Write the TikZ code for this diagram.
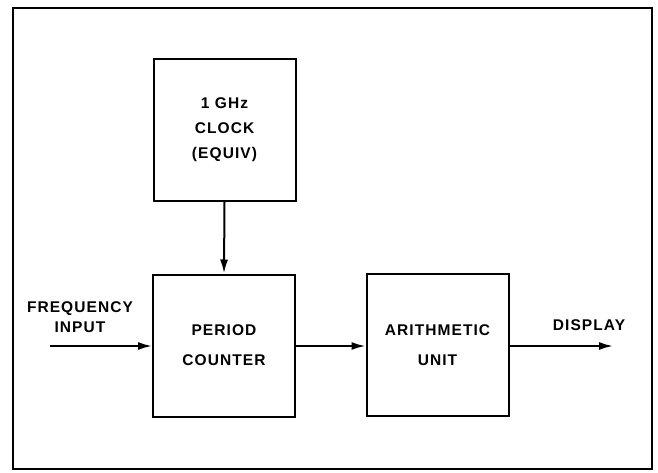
\documentclass[tikz,border=0pt]{standalone}
\usepackage{fontspec}
\setmainfont{Liberation Sans}[LetterSpace=7]
\usetikzlibrary{arrows.meta}
\begin{document}
\begin{tikzpicture}[x=1pt,y=1pt,
  blk/.style={draw,line width=2pt,minimum width=142pt,minimum height=142pt,inner sep=0pt,align=center,
    font=\fontsize{15.5}{30}\selectfont\bfseries},
  lbl/.style={inner sep=0pt,align=center,font=\fontsize{15.5}{19.5}\selectfont\bfseries},
  conn/.style={line width=2pt,-{Latex[length=14pt,width=8pt]}}]
\useasboundingbox (0,0) rectangle (658,472);
\draw[line width=2.2pt] (13,3) rectangle (652,464);
\node[blk,font=\fontsize{15.5}{25}\selectfont\bfseries] (clock) at (224.5,342) {1 GHz\\CLOCK\\(EQUIV)};
\node[blk] (counter) at (224,126.5) {PERIOD\\COUNTER};
\node[blk] (alu) at (437.5,127) {ARITHMETIC\\UNIT};
\coordinate (fin) at (50,126);
\coordinate (dout) at (613,126);
\draw[conn] (clock.south) -- (counter.north);
\draw[conn] (fin) -- (fin -| counter.west);
\draw[conn] (counter.east |- fin) -- (alu.west |- fin);
\draw[conn] (alu.east |- dout) -- (dout);
\node[lbl] (freq) at (80,155) {FREQUENCY\\INPUT};
\node[lbl] (disp) at (589,147) {DISPLAY};
\end{tikzpicture}
\end{document}
